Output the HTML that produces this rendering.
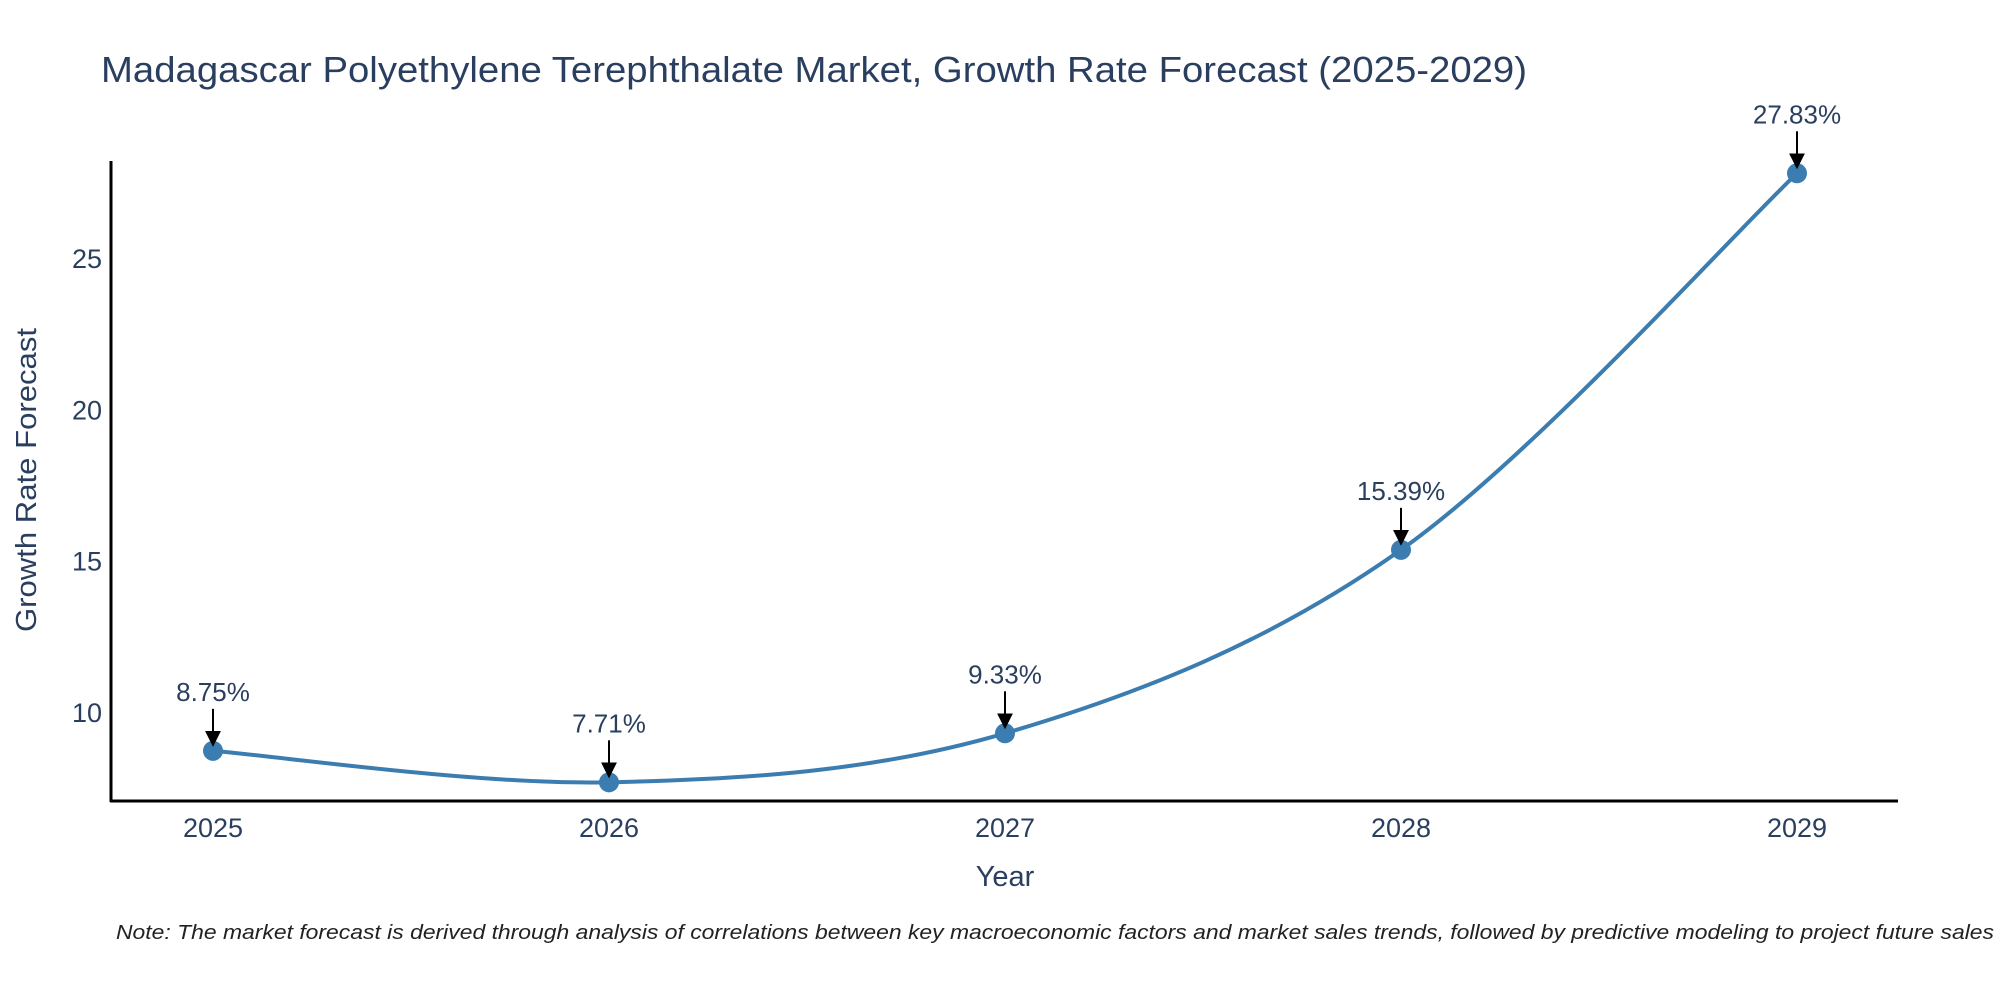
<!DOCTYPE html>
<html><head><meta charset="utf-8"><style>
html,body{margin:0;padding:0;background:#fff;}
svg{display:block;font-family:"Liberation Sans",sans-serif;}
</style></head><body>
<svg id="chart" width="2000" height="1000" viewBox="0 0 2000 1000" xmlns="http://www.w3.org/2000/svg">
<defs>
<marker id="ah2" markerWidth="16" markerHeight="16" refX="14" refY="8" orient="auto" markerUnits="userSpaceOnUse" viewBox="0 0 16 16"><path d="M0,0 L16,8 L0,16 z" fill="#000"/></marker></defs>
<text x="101" y="82" font-size="36" fill="#2a3f5f" textLength="1426" lengthAdjust="spacingAndGlyphs">Madagascar Polyethylene Terephthalate Market, Growth Rate Forecast (2025-2029)</text>
<g id="yticks"></g>
<g id="xticks"></g>
<path id="line" fill="none" stroke="#3b7db0" stroke-width="4"/>
<g id="marks"></g>
<g id="ann"></g>
<line x1="111" y1="161" x2="111" y2="802" stroke="#000" stroke-width="3"/>
<line x1="110" y1="801" x2="1898" y2="801" stroke="#000" stroke-width="3"/>
<text x="1005" y="886" font-size="29" fill="#2a3f5f" text-anchor="middle">Year</text>
<text transform="translate(36,480) rotate(-90)" font-size="29" fill="#2a3f5f" text-anchor="middle" textLength="304" lengthAdjust="spacingAndGlyphs">Growth Rate Forecast</text>
<text x="116" y="939" font-size="20" font-style="italic" fill="#222" textLength="1878" lengthAdjust="spacingAndGlyphs">Note: The market forecast is derived through analysis of correlations between key macroeconomic factors and market sales trends, followed by predictive modeling to project future sales</text>
</svg>
<script>
const years = [2025, 2026, 2027, 2028, 2029];
const growth = [8.75, 7.71, 9.33, 15.39, 27.83];
const labels = ["8.75%", "7.71%", "9.33%", "15.39%", "27.83%"];
const yTicks = [10, 15, 20, 25];

const NS = "http://www.w3.org/2000/svg";
function xs(v){ return 213 + (v - 2025) * 396; }
function ys(v){ return 713 - (v - 10) * 30.27; }
function mk(tag, attrs, parent){ const e=document.createElementNS(NS,tag); for(const k in attrs) e.setAttribute(k,attrs[k]); parent.appendChild(e); return e; }

const yt=document.getElementById('yticks');
yTicks.forEach(t=>{
  const e=mk('text',{x:102,y:ys(t)+9,'font-size':27,fill:'#2a3f5f','text-anchor':'end'},yt);
  
  
  e.textContent=t;
});
const xt=document.getElementById('xticks');
years.forEach(y=>{
  const e=mk('text',{x:xs(y),y:837,'font-size':27,fill:'#2a3f5f','text-anchor':'middle'},xt);
  
  
  e.textContent=y;
});

const pts=years.map((y,i)=>[xs(y),ys(growth[i])]);
let d='M'+pts[0][0]+','+pts[0][1];
const s=1/3;
for(let i=0;i<pts.length-1;i++){
  const p0=pts[Math.max(0,i-1)],p1=pts[i],p2=pts[i+1],p3=pts[Math.min(pts.length-1,i+2)];
  const c1=[p1[0]+(p2[0]-p0[0])*s/2,p1[1]+(p2[1]-p0[1])*s/2];
  const c2=[p2[0]-(p3[0]-p1[0])*s/2,p2[1]-(p3[1]-p1[1])*s/2];
  d+=' C'+c1[0]+','+c1[1]+' '+c2[0]+','+c2[1]+' '+p2[0]+','+p2[1];
}
document.getElementById('line').setAttribute('d',d);

const mg=document.getElementById('marks'), ag=document.getElementById('ann');
pts.forEach((p,i)=>{
  const c=mk('circle',{cx:p[0],cy:p[1],r:10,fill:'#3b7db0'},mg);
  
  
  const l=mk('line',{x1:p[0],y1:p[1]-42,x2:p[0],y2:p[1]-6,stroke:'#000','stroke-width':2,'marker-end':'url(#ah2)'},ag);
  
  
  const t=mk('text',{x:p[0],y:p[1]-50,'font-size':26,fill:'#2a3f5f','text-anchor':'middle'},ag);
  
  
  t.textContent=labels[i];
});
</script>
</body></html>
